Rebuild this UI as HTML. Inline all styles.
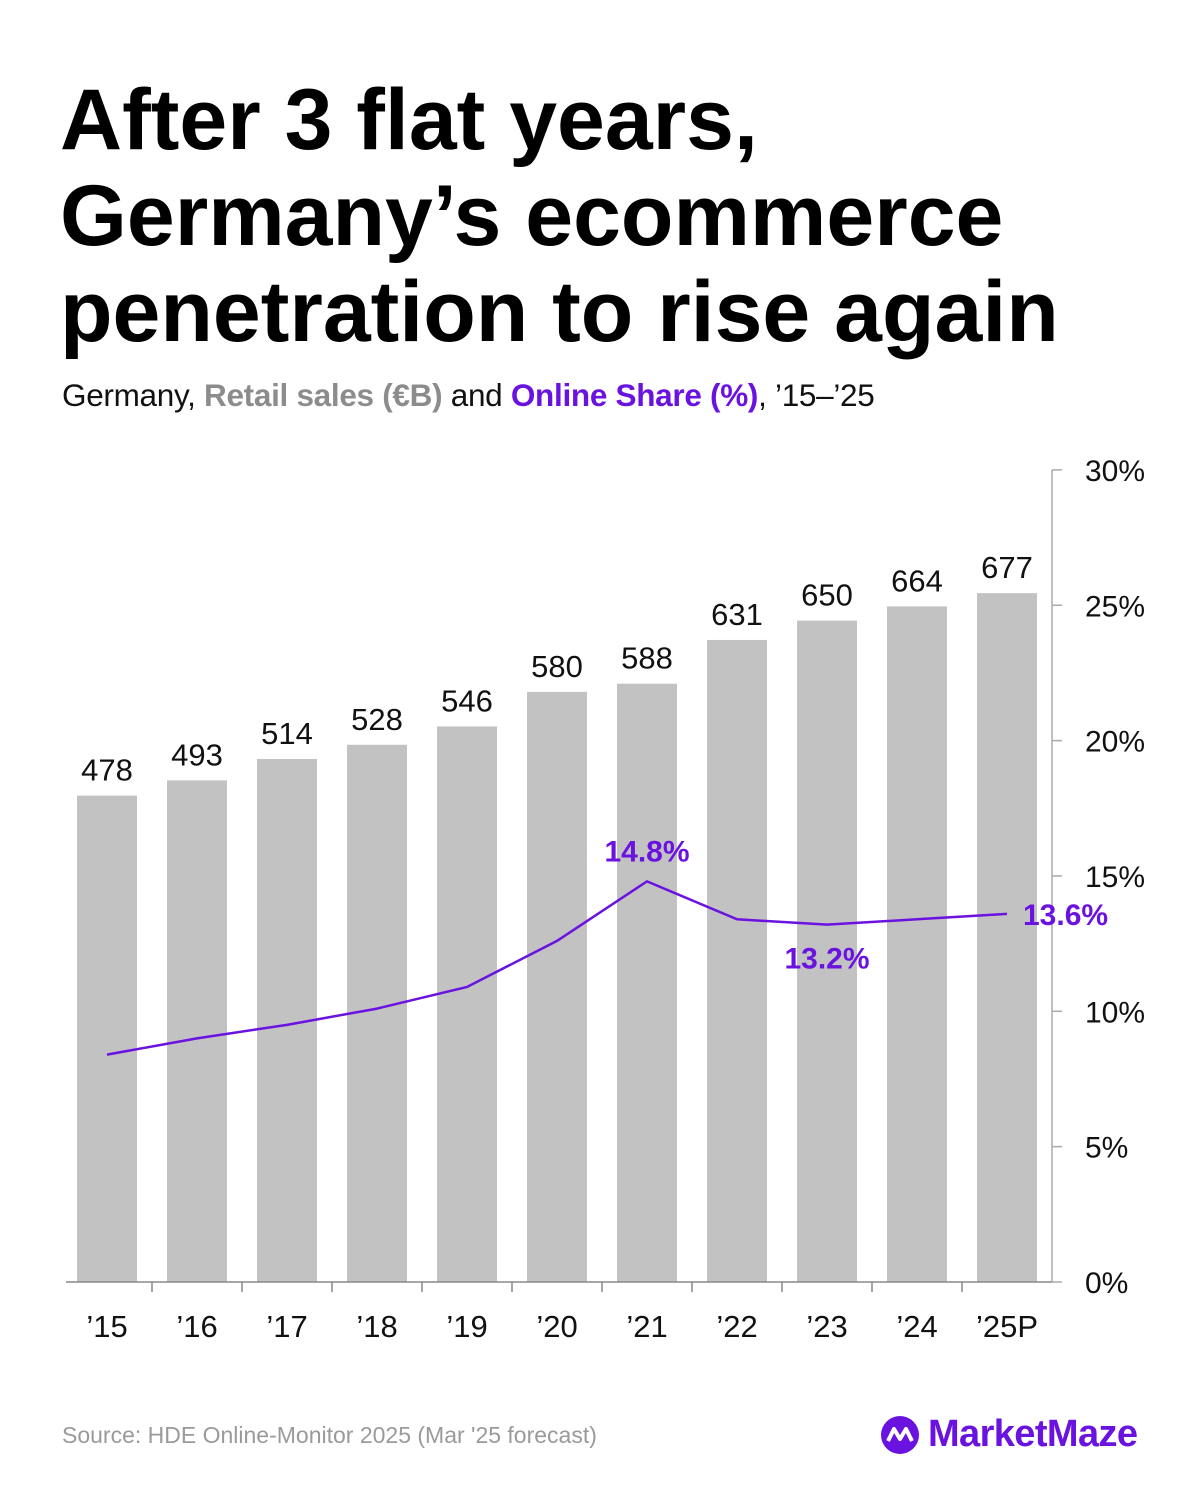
<!DOCTYPE html>
<html><head><meta charset="utf-8"><style>
body{margin:0;width:1200px;height:1500px;background:#fff;font-family:"Liberation Sans",sans-serif;position:relative;overflow:hidden}
#title{position:absolute;left:60px;top:72px;margin:0;font-size:86px;line-height:96px;font-weight:bold;letter-spacing:0px;color:#000}
#sub{position:absolute;left:62px;top:377px;font-size:31.5px;color:#111;letter-spacing:-0.3px}
#src{position:absolute;left:62px;top:1422px;font-size:23px;color:#9a9a9a}
#logo{position:absolute;left:880px;top:1413px;display:flex;align-items:center}
</style></head><body>
<h1 id="title">After 3 flat years,<br>Germany’s ecommerce<br>penetration to rise again</h1>
<div id="sub">Germany, <b style="color:#8c8c8c">Retail sales (€B)</b> and <b style="color:#6a12e0">Online Share (%)</b>, ’15–’25</div>
<svg id="chart" width="1200" height="1400" style="position:absolute;left:0;top:0"></svg>
<div id="src">Source: HDE Online-Monitor 2025 (Mar '25 forecast)</div>
<div id="logo">
<svg width="40" height="40"><circle cx="20" cy="20" r="19" fill="#6a12e0"/><path d="M8 26 L14 14 L20 24 L26 14 L32 26" stroke="#fff" stroke-width="4" fill="none" stroke-linejoin="round"/></svg>
<span style="font-size:38px;font-weight:bold;color:#6a12e0;margin-left:8px;letter-spacing:-0.6px">MarketMaze</span></div>
<script>
const categories=["’15","’16","’17","’18","’19","’20","’21","’22","’23","’24","’25P"];
const sales=[478,493,514,528,546,580,588,631,650,664,677];
const share=[8.4,9.0,9.5,10.1,10.9,12.6,14.8,13.4,13.2,13.4,13.6];
const pctTicks=[0,5,10,15,20,25,30];
const labeledShare={6:"14.8%",8:"13.2%",10:"13.6%"};
const NS="http://www.w3.org/2000/svg";
const svg=document.getElementById('chart');
const x0=62,band=90,base=1282,pxPerPct=27.07,pxPerSale=1.0175;
const xc=i=>x0+band*i+band/2;
const yPct=v=>base-v*pxPerPct;
const ySale=v=>base-v*pxPerSale;
function mk(t,a){const e=document.createElementNS(NS,t);for(const k in a)e.setAttribute(k,a[k]);svg.appendChild(e);return e;}
sales.forEach((v,i)=>{
 const r=mk('rect',{x:xc(i)-30,y:ySale(v),width:60,height:base-ySale(v),fill:'#c2c2c2'});
 
 
 const t=mk('text',{x:xc(i),y:ySale(v)-15,'text-anchor':'middle','font-size':31,fill:'#111'});
 t.textContent=v;
 
 
 const c=mk('text',{x:xc(i),y:1337,'text-anchor':'middle','font-size':31,fill:'#111'});
 c.textContent=categories[i];
 
 
 if(i>0){const tk=mk('line',{x1:x0+band*i,x2:x0+band*i,y1:base,y2:base+10,stroke:'#888','stroke-width':1.5});
 
 }
});
const ax=mk('line',{x1:66,x2:1052,y1:base,y2:base,stroke:'#888','stroke-width':1.5});


const ay=mk('line',{x1:1052,x2:1052,y1:yPct(30),y2:base,stroke:'#aaa','stroke-width':1.5});


pctTicks.forEach(p=>{
 const l=mk('line',{x1:1052,x2:1062,y1:yPct(p),y2:yPct(p),stroke:'#aaa','stroke-width':1.5});
 
 
 const t=mk('text',{x:1085,y:yPct(p)+11,'text-anchor':'start','font-size':30,fill:'#111'});
 t.textContent=p+'%';
 
 
});
const line=mk('polyline',{points:share.map((v,i)=>xc(i)+','+yPct(v)).join(' '),fill:'none',stroke:'#6a12e0','stroke-width':2.5});


const offs={6:[0,-20,'middle'],8:[0,44,'middle'],10:[16,11,'start']};
for(const k in labeledShare){
 const o=offs[k];
 const t=mk('text',{x:xc(+k)+o[0],y:yPct(share[k])+o[1],'text-anchor':o[2],'font-size':30,'font-weight':'bold',fill:'#6a12e0'});
 t.textContent=labeledShare[k];
 
 
}
</script>
</body></html>
